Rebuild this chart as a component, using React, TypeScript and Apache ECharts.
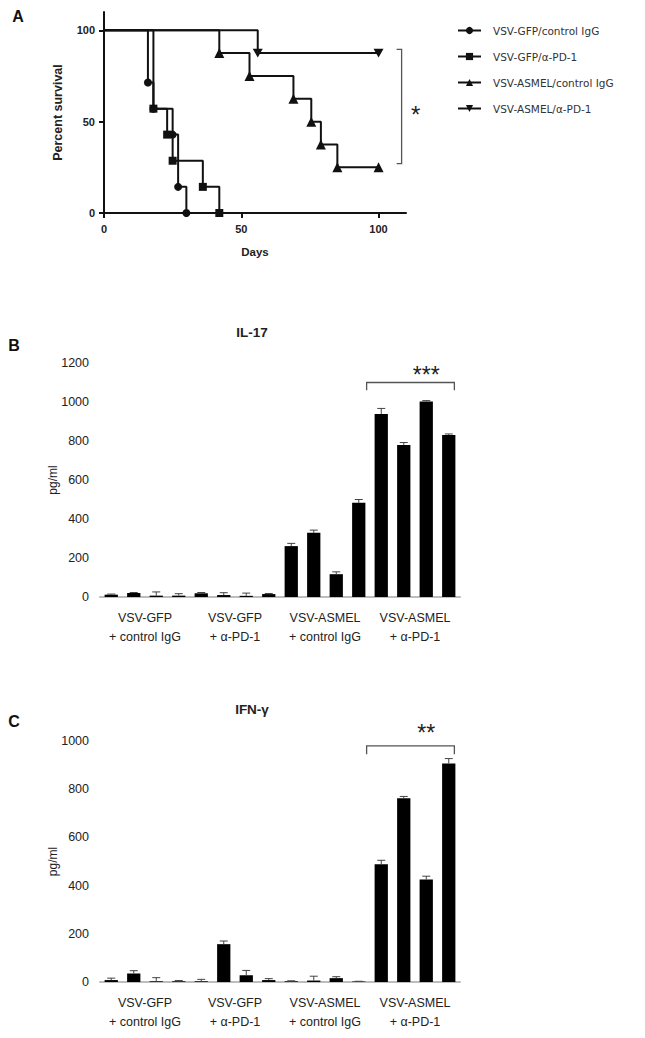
import React, { useEffect, useRef } from "react";
import * as echarts from "echarts";

// ---------- Panel A: survival ----------
const survivalNames = [
  "VSV-GFP/control IgG",
  "VSV-GFP/α-PD-1",
  "VSV-ASMEL/control IgG",
  "VSV-ASMEL/α-PD-1",
];
const gfpIggSurvival = [[0, 100], [16, 71.4], [18, 57.1], [25, 42.9], [27, 14.3], [30, 0]];
const gfpPd1Survival = [[0, 100], [18, 57.1], [23, 42.9], [25, 28.6], [36, 14.3], [42, 0]];
const asmelIggSurvival = [[0, 100], [42, 87.5], [53, 75], [69, 62.5], [75.5, 50], [79, 37.5], [85, 25], [100, 25]];
const asmelPd1Survival = [[0, 100], [56, 87.5], [100, 87.5]];
const survivalTicks = [0, 50, 100];

// ---------- Panels B & C: cytokines ----------
const groupNames = ["VSV-GFP", "VSV-GFP", "VSV-ASMEL", "VSV-ASMEL"];
const treatments = ["+ control IgG", "+ α-PD-1", "+ control IgG", "+ α-PD-1"];
const barIds = ["1", "2", "3", "4", "5", "6", "7", "8", "9", "10", "11", "12", "13", "14", "15", "16"];
const il17Values = [12, 20, 7, 7, 19, 10, 6, 15, 261, 329, 117, 483, 939, 780, 1003, 831];
const il17Errors = [3, 3, 19, 10, 4, 12, 14, 3, 14, 14, 12, 17, 28, 12, 4, 5];
const ifngValues = [8, 35, 3, 3, 3, 157, 28, 8, 3, 6, 16, 2, 489, 762, 425, 907];
const ifngErrors = [8, 12, 15, 3, 8, 13, 20, 6, 2, 18, 6, 1, 16, 8, 14, 20];

const SANS = "Liberation Sans";

function errorRender(params: any, api: any) {
  const x = api.value(0);
  const v = api.value(1);
  const e = api.value(2);
  const base = api.coord([x, v]);
  const top = api.coord([x, v + e]);
  const hw = 4;
  const style = { stroke: "#444", lineWidth: 1 };
  return {
    type: "group",
    children: [
      { type: "line", shape: { x1: base[0], y1: base[1], x2: top[0], y2: top[1] }, style },
      { type: "line", shape: { x1: top[0] - hw, y1: top[1], x2: top[0] + hw, y2: top[1] }, style },
    ],
  };
}

function kmData(points: number[][]) {
  return points.map((p, i) => (i === 0 ? { value: p, symbol: "none" } : { value: p }));
}

export default function App() {
  const ref = useRef<HTMLDivElement>(null);
  useEffect(() => {
    if (!ref.current) return;
    const chart = echarts.init(ref.current, undefined, { renderer: "svg" });

    const boldA = { fontFamily: SANS, fontWeight: "bold" as const, color: "#222" };
    const survivalSeries = [gfpIggSurvival, gfpPd1Survival, asmelIggSurvival, asmelPd1Survival];
    const symbols = ["circle", "rect", "triangle", "path://M0,0L2,0L1,1.73Z"];
    const symbolSizes = [8, 8, 10, 10];

    const barAxisCommon = (gridIndex: number) => ({
      type: "category",
      gridIndex,
      data: barIds,
      axisLine: { lineStyle: { color: "#bdbdbd", width: 2 } },
      axisTick: { show: false },
      axisLabel: { show: false },
    });
    const groupAxis = (gridIndex: number) => ({
      type: "category",
      gridIndex,
      data: groupNames.map((g, i) => g + "\n" + treatments[i]),
      position: "bottom",
      axisLine: { show: false },
      axisTick: { show: false },
      axisLabel: { interval: 0, fontFamily: SANS, fontSize: 12.5, lineHeight: 19, color: "#222", margin: 11 },
    });
    const valueAxis = (gridIndex: number, max: number) => ({
      type: "value",
      gridIndex,
      min: 0,
      max,
      interval: 200,
      axisLine: { show: false },
      axisTick: { show: false },
      splitLine: { show: false },
      axisLabel: {
        fontFamily: SANS,
        fontSize: 12.5,
        color: "#222",
        margin: 11,
        formatter: (v: number) => String(v),
      },
      name: "pg/ml",
      nameLocation: "middle",
      nameGap: 47,
      nameMoveOverlap: false,
      nameTextStyle: { fontFamily: SANS, fontSize: 12, color: "#222", verticalAlign: "middle" },
    });

    const option: any = {
      animation: false,
      backgroundColor: "#fff",
      grid: [
        { left: 104, top: 12, width: 302, height: 201 },
        { left: 100, top: 363, width: 360, height: 234 },
        { left: 100, top: 741, width: 360, height: 241 },
      ],
      legend: {
        orient: "vertical",
        left: 452,
        top: 20,
        itemWidth: 23,
        itemHeight: 9,
        itemGap: 15,
        data: survivalNames,
        textStyle: { fontFamily: "DejaVu Sans", fontSize: 10.5, color: "#333", padding: [0, 0, 0, 7] },
      },
      xAxis: [
        {
          type: "value",
          gridIndex: 0,
          min: 0,
          max: 110,
          axisLine: { lineStyle: { color: "#111", width: 2 } },
          axisTick: { length: 5, lineStyle: { color: "#111", width: 2 }, customValues: survivalTicks },
          axisLabel: { ...boldA, fontSize: 11, margin: 10, customValues: survivalTicks },
          splitLine: { show: false },
          name: "Days",
          nameLocation: "middle",
          nameGap: 33,
          nameTextStyle: { ...boldA, fontSize: 11.5 },
        },
        barAxisCommon(1),
        groupAxis(1),
        barAxisCommon(2),
        groupAxis(2),
      ],
      yAxis: [
        {
          type: "value",
          gridIndex: 0,
          min: 0,
          max: 110,
          axisLine: { show: true, lineStyle: { color: "#111", width: 2 } },
          axisTick: { show: true, length: 5, lineStyle: { color: "#111", width: 2 }, customValues: survivalTicks },
          axisLabel: { ...boldA, fontSize: 11, margin: 9, customValues: survivalTicks },
          splitLine: { show: false },
          name: "Percent survival",
          nameLocation: "middle",
          nameGap: 40,
          nameTextStyle: { ...boldA, fontSize: 12.5 },
        },
        valueAxis(1, 1200),
        valueAxis(2, 1000),
      ],
      series: [
        ...survivalSeries.map((pts, i) => ({
          type: "line",
          name: survivalNames[i],
          xAxisIndex: 0,
          yAxisIndex: 0,
          step: "end",
          data: kmData(pts),
          symbol: symbols[i],
          symbolSize: symbolSizes[i],
          symbolKeepAspect: true,
          showAllSymbol: true,
          lineStyle: { color: "#111", width: 2 },
          itemStyle: { color: "#111", borderWidth: 0 },
          z: 3 + i,
        })),
        {
          type: "bar",
          xAxisIndex: 1,
          yAxisIndex: 1,
          data: il17Values,
          barWidth: "59%",
          itemStyle: { color: "#000" },
        },
        {
          type: "custom",
          xAxisIndex: 1,
          yAxisIndex: 1,
          renderItem: errorRender,
          data: il17Values.map((v, i) => [i, v, il17Errors[i]]),
          encode: { x: 0, y: 1 },
          z: 5,
        },
        {
          type: "bar",
          xAxisIndex: 3,
          yAxisIndex: 2,
          data: ifngValues,
          barWidth: "59%",
          itemStyle: { color: "#000" },
        },
        {
          type: "custom",
          xAxisIndex: 3,
          yAxisIndex: 2,
          renderItem: errorRender,
          data: ifngValues.map((v, i) => [i, v, ifngErrors[i]]),
          encode: { x: 0, y: 1 },
          z: 5,
        },
      ],
    };
    chart.setOption(option);

    // annotations positioned through the axes
    const pA = (x: number, y: number) => chart.convertToPixel({ xAxisIndex: 0, yAxisIndex: 0 }, [x, y]) as number[];
    const pB = (x: number, y: number) => chart.convertToPixel({ xAxisIndex: 1, yAxisIndex: 1 }, [x, y]) as number[];
    const pC = (x: number, y: number) => chart.convertToPixel({ xAxisIndex: 3, yAxisIndex: 2 }, [x, y]) as number[];

    const txt = (text: string, x: number, y: number, font: string, fill = "#222") => ({
      type: "text",
      x,
      y,
      silent: true,
      style: { text, font, fill, textAlign: "center", align: "center", textVerticalAlign: "middle", verticalAlign: "middle" },
    });
    const bracketStroke = { stroke: "#555", lineWidth: 1.3, fill: null };

    const aTop = pA(108.4, 89.5);
    const aBot = pA(108.4, 27);
    const bracketA = {
      type: "polyline",
      silent: true,
      shape: { points: [[aTop[0] - 5, aTop[1]], [aTop[0], aTop[1]], [aBot[0], aBot[1]], [aBot[0] - 5, aBot[1]]] },
      style: bracketStroke,
    };
    const starA = pA(113.5, 56);

    const makeBracket = (pf: (x: number, y: number) => number[], yTop: number, yBot: number) => {
      const c12 = pf(12, yTop);
      const c13 = pf(13, yTop);
      const c15 = pf(15, yTop);
      const bot = pf(12, yBot);
      const w = c13[0] - c12[0];
      const x1 = c12[0] - 0.65 * w;
      const x2 = c15[0] + 0.25 * w;
      return {
        type: "polyline",
        silent: true,
        shape: { points: [[x1, bot[1]], [x1, c12[1]], [x2, c12[1]], [x2, bot[1]]] },
        style: bracketStroke,
      };
    };
    const starB = pB(13.5, 1160);
    const starC = pC(13.5, 1050);

    chart.setOption({
      graphic: [
        txt("A", 18, 16, `bold 16px ${SANS}`, "#111"),
        txt("B", 14, 345, `bold 16px ${SANS}`, "#111"),
        txt("C", 14, 721, `bold 16px ${SANS}`, "#111"),
        txt("IL-17", 252, 332, `bold 13.5px ${SANS}`, "#222"),
        txt("IFN-γ", 252, 709, `bold 13.5px ${SANS}`, "#222"),
        bracketA,
        txt("*", starA[0], starA[1] + 4, `24px ${SANS}`, "#222"),
        makeBracket(pB, 1100, 1060),
        txt("***", starB[0], starB[1] + 4, `23px ${SANS}`, "#222"),
        makeBracket(pC, 980, 945),
        txt("**", starC[0], starC[1] + 4, `23px ${SANS}`, "#222"),
      ],
    });

    return () => chart.dispose();
  }, []);

  return (
    <div
      ref={ref}
      style={{ position: "absolute", left: 0, top: 0, width: 645, height: 1038, background: "#fff" }}
    />
  );
}
